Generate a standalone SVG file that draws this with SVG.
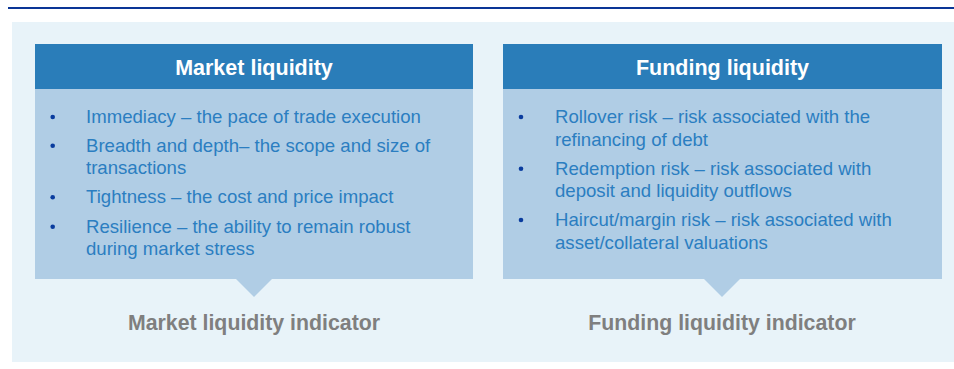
<svg xmlns="http://www.w3.org/2000/svg" width="954" height="369" viewBox="0 0 954 369">
<style>
.hdr{fill:#2a7db9}
.body{fill:#b0cde5}
.ht{font-family:"Liberation Sans",Arial,sans-serif;font-weight:bold;font-size:21.5px;fill:#ffffff;text-anchor:middle}
.bt{font-family:"Liberation Sans",Arial,sans-serif;font-size:18.6px;fill:#2b7ec1}
.ind{font-family:"Liberation Sans",Arial,sans-serif;font-weight:bold;font-size:21.3px;fill:#7f7f7f;text-anchor:middle}
.dot{fill:#0a3c9e}
</style>
<rect x="0" y="0" width="954" height="369" fill="#ffffff"/>
<rect x="8" y="7" width="946" height="2" fill="#0a3596"/>
<rect x="12" y="22" width="942" height="340" fill="#e8f3f9"/>
<g id="market">
<rect class="body" x="35" y="89" width="438" height="190"/>
<polygon class="body" points="235,278 273,278 254,297"/>
<rect class="hdr" x="35" y="44" width="438" height="45"/>
<text class="ht" x="254" y="75">Market liquidity</text>
<circle class="dot" cx="52.7" cy="117" r="2.3"/>
<circle class="dot" cx="52.7" cy="145.7" r="2.3"/>
<circle class="dot" cx="52.7" cy="197.3" r="2.3"/>
<circle class="dot" cx="52.7" cy="226.7" r="2.3"/>
<text class="bt" x="86" y="123">Immediacy – the pace of trade execution</text>
<text class="bt" x="86" y="151.7">Breadth and depth– the scope and size of</text>
<text class="bt" x="86" y="174.3">transactions</text>
<text class="bt" x="86" y="203.3">Tightness – the cost and price impact</text>
<text class="bt" x="86" y="232.7">Resilience – the ability to remain robust</text>
<text class="bt" x="86" y="255">during market stress</text>
</g>
<g id="funding">
<rect class="body" x="503" y="89" width="439" height="190"/>
<polygon class="body" points="703,278 741,278 722,297"/>
<rect class="hdr" x="503" y="44" width="439" height="45"/>
<text class="ht" x="722.5" y="75">Funding liquidity</text>
<circle class="dot" cx="521" cy="117" r="2.3"/>
<circle class="dot" cx="521" cy="168.7" r="2.3"/>
<circle class="dot" cx="521" cy="220" r="2.3"/>
<text class="bt" x="555" y="123">Rollover risk – risk associated with the</text>
<text class="bt" x="555" y="145.5">refinancing of debt</text>
<text class="bt" x="555" y="174.7">Redemption risk – risk associated with</text>
<text class="bt" x="555" y="197">deposit and liquidity outflows</text>
<text class="bt" x="555" y="226">Haircut/margin risk – risk associated with</text>
<text class="bt" x="555" y="248.5">asset/collateral valuations</text>
</g>
<g id="market-indicator">
<text class="ind" x="254" y="330">Market liquidity indicator</text>
</g>
<g id="funding-indicator">
<text class="ind" x="722" y="330">Funding liquidity indicator</text>
</g>
<g id="connectors"></g>
</svg>
